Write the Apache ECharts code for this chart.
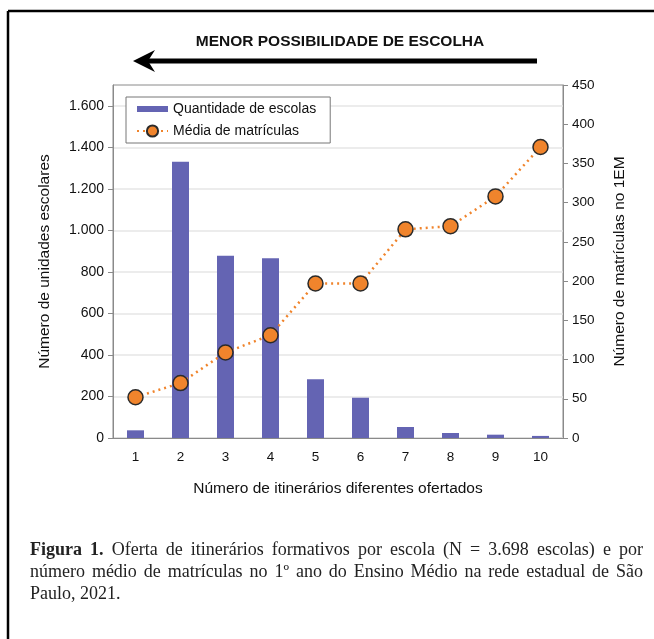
<!DOCTYPE html>
<html>
<head>
<meta charset="utf-8">
<script src="https://cdn.jsdelivr.net/npm/echarts@6/dist/echarts.min.js"></script>
<style>
html,body{margin:0;padding:0;background:#fff;}
#chart{width:654px;height:639px;}
</style>
</head>
<body>
<div id="chart"></div>
<script>
// ---- data ----
var categories = ['1','2','3','4','5','6','7','8','9','10'];
var escolas = [37, 1330, 878, 866, 283, 194, 53, 24, 16, 10];
var matriculas = [52, 70, 109, 131, 197, 197, 266, 270, 308, 371];
var leftTicks = [0, 200, 400, 600, 800, 1000, 1200, 1400, 1600];
var topLabel = 'MENOR POSSIBILIDADE DE ESCOLHA';
var captionBold = 'Figura 1.';
var captionLines = [
  'Figura 1. Oferta de itinerários formativos por escola (N = 3.698 escolas) e por',
  'número médio de matrículas no 1º ano do Ensino Médio na rede estadual de São',
  'Paulo, 2021.'
];

function fmt(v){ return String(v).replace(/\B(?=(\d{3})+(?!\d))/g, '.'); }

var chart = echarts.init(document.getElementById('chart'), null, {renderer:'canvas'});
var sans = '"Liberation Sans", Arial, sans-serif';
var serif = '"Liberation Serif", "Times New Roman", serif';

var graphics = [
  {type:'line', shape:{x1:8, y1:11, x2:654, y2:11}, style:{stroke:'#000', lineWidth:2.5}},
  {type:'line', shape:{x1:8, y1:11, x2:8, y2:639}, style:{stroke:'#000', lineWidth:2.5}},
  {type:'text', style:{text:topLabel, font:'bold 15.5px '+sans, fill:'#111', align:'center', verticalAlign:'middle', x:340, y:42}},
  {type:'line', shape:{x1:148, y1:61, x2:537, y2:61}, style:{stroke:'#000', lineWidth:5}},
  {type:'polygon', shape:{points:[[133,61],[155,50],[148,61],[155,72]]}, style:{fill:'#000'}}
];

// justified caption
(function(){
  var cv = document.createElement('canvas').getContext('2d');
  var capFont = 18, x0 = 30, x1 = 643, y0 = 550, lh = 22;
  var boldWords = captionBold.split(' ').length;
  for (var i=0;i<captionLines.length;i++){
    var words = captionLines[i].split(' ');
    var fonts = words.map(function(w, k){
      return ((i===0 && k<boldWords) ? 'bold ' : '') + capFont + 'px ' + serif;
    });
    var widths = words.map(function(w,k){ cv.font = fonts[k]; return cv.measureText(w).width; });
    var total = widths.reduce(function(a,b){return a+b;},0);
    cv.font = capFont + 'px ' + serif;
    var space = cv.measureText(' ').width;
    var last = (i === captionLines.length-1);
    if (!last && words.length>1) space = (x1 - x0 - total)/(words.length-1);
    var x = x0;
    for (var k=0;k<words.length;k++){
      graphics.push({type:'text', style:{text:words[k], x:x, y:y0 + i*lh, font:fonts[k], fill:'#222', verticalAlign:'middle'}});
      x += widths[k] + space;
    }
  }
})();

var option = {
  animation:false,
  backgroundColor:'#fff',
  textStyle:{fontFamily:sans},
  grid:{left:113, right:91, top:85, bottom:201, show:true, borderColor:'#8a8a8a', borderWidth:1, backgroundColor:'transparent'},
  legend:{
    left:126, top:97, orient:'vertical', padding:[5,14,5,10], itemGap:8,
    itemWidth:31, itemHeight:14, borderColor:'#777', borderWidth:1, backgroundColor:'#fff',
    textStyle:{fontSize:14, color:'#111', fontFamily:sans},
    data:[
      {name:'Quantidade de escolas', icon:'path://M0,4 L31,4 L31,10 L0,10 Z'},
      {name:'Média de matrículas'}
    ]
  },
  xAxis:{
    type:'category', data:categories, boundaryGap:true,
    axisLine:{lineStyle:{color:'#8a8a8a'}}, axisTick:{show:false},
    axisLabel:{color:'#111', fontSize:13.5, margin:12},
    name:'Número de itinerários diferentes ofertados', nameLocation:'middle', nameGap:43,
    nameTextStyle:{fontSize:15.5, color:'#111'}
  },
  yAxis:[
    {
      type:'value', min:0, max:1700, interval:200, position:'left',
      axisLine:{show:true, lineStyle:{color:'#8a8a8a'}},
      axisTick:{show:true, length:5, lineStyle:{color:'#8a8a8a'}, customValues:leftTicks},
      axisLabel:{color:'#111', fontSize:14, margin:9, customValues:leftTicks, formatter:function(v){return fmt(v);}},
      splitLine:{show:true, lineStyle:{color:'#e6e6e6', width:1.5}},
      name:'Número de unidades escolares', nameLocation:'middle', nameGap:60, nameRotate:90,
      nameTextStyle:{fontSize:15.5, color:'#111'}
    },
    {
      type:'value', min:0, max:450, interval:50, position:'right',
      axisLine:{show:true, lineStyle:{color:'#8a8a8a'}},
      axisTick:{show:true, length:5, lineStyle:{color:'#8a8a8a'}},
      axisLabel:{color:'#111', fontSize:13.5, margin:9},
      splitLine:{show:false},
      name:'Número de matrículas no 1EM', nameLocation:'middle', nameGap:49, nameRotate:90,
      nameTextStyle:{fontSize:15.5, color:'#111'}
    }
  ],
  series:[
    {
      name:'Quantidade de escolas', type:'bar', data:escolas, barWidth:17, yAxisIndex:0,
      itemStyle:{color:'#6464b3'}, z:2
    },
    {
      name:'Média de matrículas', type:'line', data:matriculas, yAxisIndex:1,
      lineStyle:{color:'#f0842c', width:2.5, type:[2,4]},
      symbol:'circle', symbolSize:15,
      itemStyle:{color:'#f0842c', borderColor:'#2a2a2a', borderWidth:1.5},
      z:3
    }
  ],
  graphic:graphics
};
chart.setOption(option);
</script>
</body>
</html>
